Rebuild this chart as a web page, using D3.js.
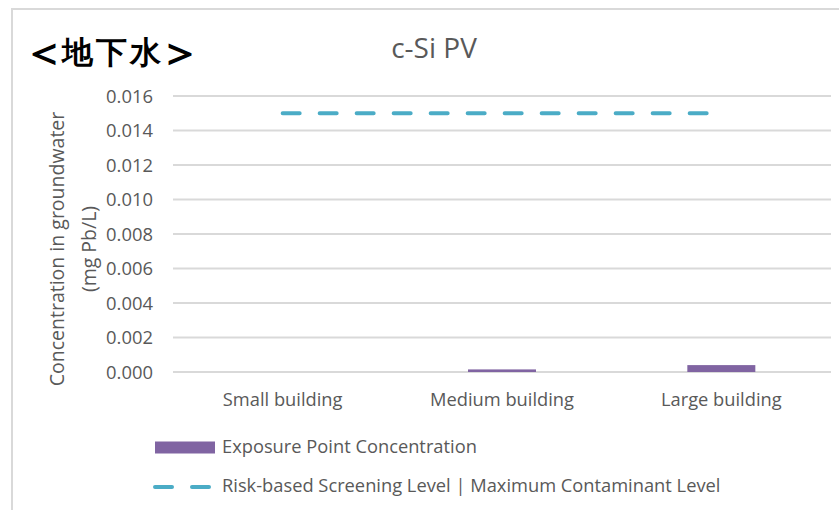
<!DOCTYPE html>
<html>
<head>
<meta charset="utf-8">
<script src="https://cdn.jsdelivr.net/npm/d3@7"></script>
<style>
  body { margin: 0; background: #fff; }
  svg { display: block; }
  text { font-family: "Open Sans", "Noto Sans", sans-serif; fill: #595959; }
</style>
</head>
<body>
<div id="chart"></div>
<script>
const categories = ["Small building", "Medium building", "Large building"];
const exposureValues = [0, 0.00015, 0.0004];
const screeningLevel = [0.015, 0.015, 0.015];
const yTicks = [0, 0.002, 0.004, 0.006, 0.008, 0.010, 0.012, 0.014, 0.016];
const seriesNames = ["Exposure Point Concentration", "Risk-based Screening Level | Maximum Contaminant Level"];
const chartTitle = "c-Si PV";
const sectionLabel = ["＜", "地下水", "＞"];
const yTitleLines = ["Concentration in groundwater", "(mg Pb/L)"];

const W = 839, H = 510;
const purple = "#8064A2", aqua = "#4BACC6", grid = "#D9D9D9";

const svg = d3.select("#chart").append("svg").attr("width", W).attr("height", H);

// outer frame
svg.append("rect").attr("x", 12).attr("y", 9).attr("width", 900).attr("height", 600)
  .attr("fill", "none").attr("stroke", grid).attr("stroke-width", 2);

const plot = { left: 173, right: 831, top: 96, bottom: 372 };

const x = d3.scaleBand().domain(categories).range([plot.left, plot.right])
  .paddingInner(0.69).paddingOuter(0.345);
const y = d3.scaleLinear().domain([0, 0.016]).range([plot.bottom, plot.top]);

// gridlines
svg.append("g").selectAll("line").data(yTicks).join("line")
  .attr("x1", plot.left).attr("x2", plot.right)
  .attr("y1", d => y(d)).attr("y2", d => y(d))
  .attr("stroke", grid).attr("stroke-width", 2);

// y axis labels
const yAxis = d3.axisLeft(y).tickValues(yTicks).tickFormat(d3.format(".3f")).tickSize(0).tickPadding(20);
const yg = svg.append("g").attr("transform", `translate(${plot.left},0)`).call(yAxis);
yg.select(".domain").remove();
yg.selectAll("text").attr("font-size", 18.4).attr("fill", "#595959")
  .attr("font-family", '"Open Sans", sans-serif').attr("dy", "0.35em");

// x axis labels
const xAxis = d3.axisBottom(x).tickSize(0).tickPadding(21);
const xg = svg.append("g").attr("transform", `translate(0,${plot.bottom})`).call(xAxis);
xg.select(".domain").remove();
xg.selectAll("text").attr("font-size", 18.3).attr("fill", "#595959")
  .attr("font-family", '"Open Sans", sans-serif');

// bars
svg.append("g").selectAll("rect").data(exposureValues).join("rect")
  .attr("x", (d, i) => x(categories[i]))
  .attr("width", x.bandwidth())
  .attr("y", d => y(d))
  .attr("height", d => plot.bottom - y(d))
  .attr("fill", purple);

// dashed screening line
const line = d3.line()
  .x((d, i) => x(categories[i]) + x.bandwidth() / 2)
  .y(d => y(d));
svg.append("path").datum(screeningLevel).attr("d", line)
  .attr("fill", "none").attr("stroke", aqua).attr("stroke-width", 4)
  .attr("stroke-linecap", "round").attr("stroke-dasharray", "17,20");

// chart title
svg.append("text").attr("x", 434).attr("y", 47).attr("text-anchor", "middle")
  .attr("dominant-baseline", "central").attr("font-size", 28).text(chartTitle);

// section label
const sl = svg.append("text").attr("x", 22).attr("y", 63)
  .attr("font-family", '"Noto Sans CJK JP", sans-serif').attr("font-weight", 700)
  .style("fill", "#000");
sl.append("tspan").attr("font-size", 44).attr("dy", 4).text(sectionLabel[0]);
sl.append("tspan").attr("font-size", 31).attr("dy", -4).attr("dx", -4).attr("letter-spacing", 3).text(sectionLabel[1]);
sl.append("tspan").attr("font-size", 44).attr("dy", 4).attr("dx", -6).text(sectionLabel[2]);

// y title
const yt = svg.append("text").attr("transform", "translate(0,249) rotate(-90)")
  .attr("text-anchor", "middle").attr("font-size", 19.5);
yt.selectAll("tspan").data(yTitleLines).join("tspan")
  .attr("x", 0).attr("y", (d, i) => i === 0 ? 56 : 88)
  .attr("dominant-baseline", "central").text(d => d);

// legend
const lg = svg.append("g");
lg.append("rect").attr("x", 155).attr("y", 441.5).attr("width", 60).attr("height", 12).attr("fill", purple);
lg.append("text").attr("x", 222).attr("y", 453).attr("font-size", 18.3).text(seriesNames[0]);
lg.append("line").attr("x1", 155).attr("x2", 209).attr("y1", 487).attr("y2", 487)
  .attr("stroke", aqua).attr("stroke-width", 4).attr("stroke-linecap", "round")
  .attr("stroke-dasharray", "17,20");
lg.append("text").attr("x", 222).attr("y", 492).attr("font-size", 18.3).text(seriesNames[1]);
</script>
</body>
</html>
